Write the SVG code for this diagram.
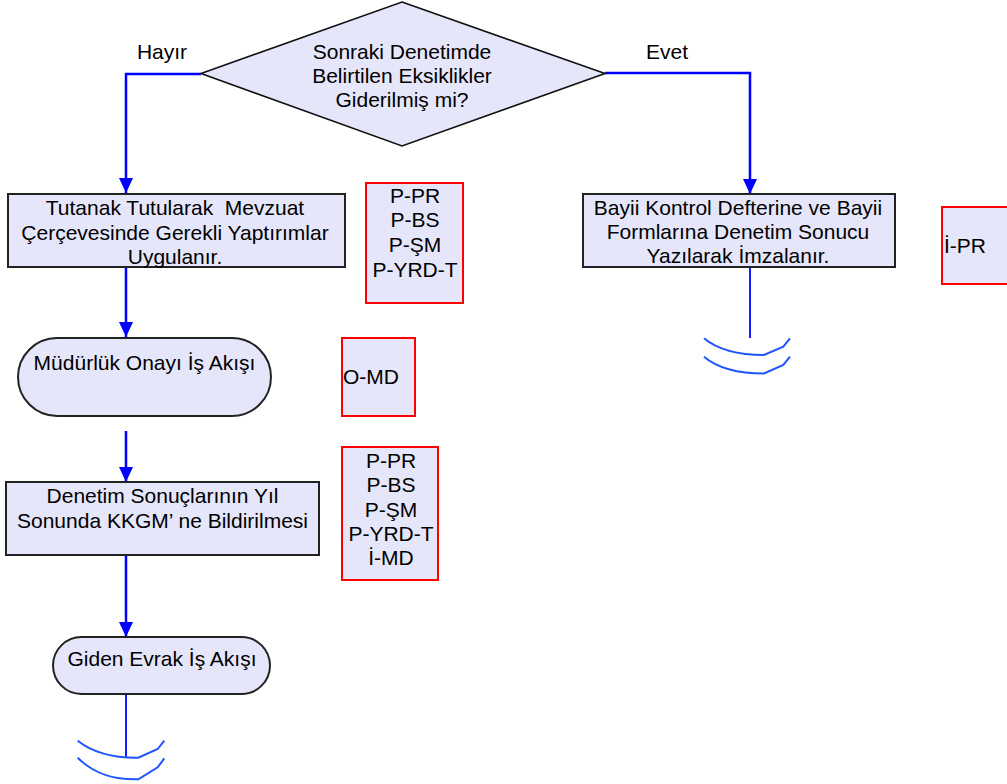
<svg xmlns="http://www.w3.org/2000/svg" width="1007" height="784" viewBox="0 0 1007 784">
<style>
  text { font-family: "Liberation Sans", Arial, sans-serif; font-size: 21px; fill: #000; }
  .c { text-anchor: middle; }
  .shape { fill: #E6E6FA; stroke: #222; stroke-width: 2; }
  .dia { fill: #E6E6FA; stroke: #111; stroke-width: 1.6; }
  .ref { fill: #E6E6FA; stroke: #FF0000; stroke-width: 2; }
  .flow { fill: none; stroke: #0000FF; stroke-width: 2.5; }
  .thin { fill: none; stroke: #0000FF; stroke-width: 1.8; }
  .arc { fill: none; stroke: #1F55FF; stroke-width: 2; }
</style>
<defs>
  <marker id="arrow" markerUnits="userSpaceOnUse" markerWidth="15" markerHeight="14" refX="15" refY="7" orient="auto">
    <path d="M0,0 L15,7 L0,14 z" fill="#0000FF"/>
  </marker>
</defs>
<rect width="1007" height="784" fill="#fff"/>

<g id="connectors">
  <path class="flow" d="M201,74 H126 V193" marker-end="url(#arrow)"/>
  <path class="flow" d="M605,73 H750 V194" marker-end="url(#arrow)"/>
  <path class="flow" d="M126,267 V337" marker-end="url(#arrow)"/>
  <path class="flow" d="M126,431 V482" marker-end="url(#arrow)"/>
  <path class="flow" d="M126,555 V637" marker-end="url(#arrow)"/>
  <path class="thin" d="M750,267 V338"/>
  <path class="thin" d="M126,687 V758"/>
  <text x="162" y="59" class="c">Hayır</text>
  <text x="667" y="59" class="c">Evet</text>
</g>

<g id="node-decision">
  <polygon class="dia" points="402,2 605,73.5 402,146 201,73.5"/>
  <text x="402" y="59" class="c">Sonraki Denetimde</text>
  <text x="402" y="83" class="c">Belirtilen Eksiklikler</text>
  <text x="402" y="107" class="c">Giderilmiş mi?</text>
</g>

<g id="node-tutanak">
  <rect class="shape" x="8" y="194" width="337" height="73"/>
  <text x="175" y="215" class="c" xml:space="preserve">Tutanak Tutularak  Mevzuat</text>
  <text x="175" y="240" class="c">Çerçevesinde Gerekli Yaptırımlar</text>
  <text x="175" y="264" class="c">Uygulanır.</text>
</g>

<g id="node-ref-1">
  <rect class="ref" x="366" y="183" width="97" height="120"/>
  <text x="415" y="203" class="c">P-PR</text>
  <text x="415" y="227" class="c">P-BS</text>
  <text x="415" y="252" class="c">P-ŞM</text>
  <text x="415" y="277" class="c">P-YRD-T</text>
</g>

<g id="node-bayii">
  <rect class="shape" x="583" y="194" width="312" height="73"/>
  <text x="738" y="215" class="c">Bayii Kontrol Defterine ve Bayii</text>
  <text x="738" y="239" class="c">Formlarına Denetim Sonucu</text>
  <text x="738" y="263" class="c">Yazılarak İmzalanır.</text>
</g>

<g id="node-ref-ipr">
  <rect class="ref" x="942" y="207" width="70" height="77"/>
  <text x="944" y="253">İ-PR</text>
</g>

<g id="node-mudurluk">
  <rect class="shape" x="18" y="338" width="253" height="78" rx="39" ry="39"/>
  <text x="144.5" y="370" class="c">Müdürlük Onayı İş Akışı</text>
</g>

<g id="node-ref-omd">
  <rect class="ref" x="342" y="338" width="73" height="78"/>
  <text x="343" y="384">O-MD</text>
</g>

<g id="node-denetim">
  <rect class="shape" x="6" y="482" width="313" height="73"/>
  <text x="162.5" y="503" class="c">Denetim Sonuçlarının Yıl</text>
  <text x="162.5" y="528" class="c">Sonunda KKGM’ ne Bildirilmesi</text>
</g>

<g id="node-ref-3">
  <rect class="ref" x="342" y="447" width="96" height="133"/>
  <text x="391" y="468" class="c">P-PR</text>
  <text x="391" y="492" class="c">P-BS</text>
  <text x="391" y="517" class="c">P-ŞM</text>
  <text x="391" y="541" class="c">P-YRD-T</text>
  <text x="391" y="565" class="c">İ-MD</text>
</g>

<g id="node-giden">
  <rect class="shape" x="53" y="637" width="217" height="57" rx="28.5" ry="28.5"/>
  <text x="162" y="666" class="c">Giden Evrak İş Akışı</text>
</g>

<g id="end-bayii">
  <path class="arc" d="M704,338.3 C718,350 738,355 764,355 L783.3,346.7 L790,338.3"/>
  <path class="arc" d="M704,356.7 C718,368.5 738,373.5 764,373.5 L783.3,365 L790,356.7"/>
</g>

<g id="end-giden">
  <path class="arc" d="M77.7,740.7 C92,752 110,758 138.3,757.7 L157.7,749 L164.3,740.7"/>
  <path class="arc" d="M77.7,757.7 C92,772 110,780 138.3,779.3 L157.7,767.3 L164.3,758.3"/>
</g>
</svg>
